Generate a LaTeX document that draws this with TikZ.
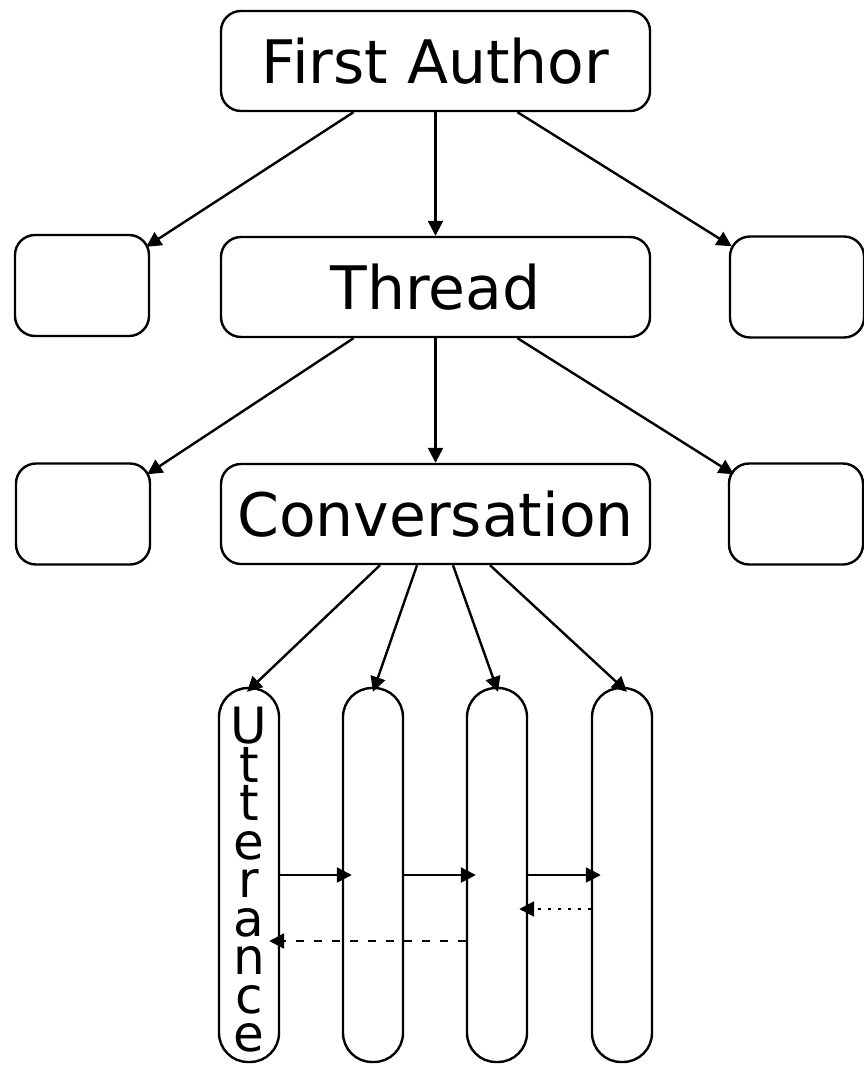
\documentclass[tikz,border=0pt]{standalone}
\usepackage{fontspec}
\setmainfont{DejaVu Sans}
\usetikzlibrary{arrows.meta,calc}
% tight, fixed line pitch for the vertical label
\newcommand\stackfont{\fontsize{50}{38.5}\selectfont
  \lineskiplimit=-100pt\relax\lineskip=0pt\relax}
\tikzset{
  box/.style={draw, line width=2.4pt, rounded corners=20pt, inner sep=0pt},
  bigbox/.style={box, minimum width=429pt, minimum height=100pt,
    font=\fontsize{60}{72}\selectfont},
  sidebox/.style={box, minimum width=134pt, minimum height=101pt},
  uttbox/.style={draw, line width=2.4pt, rounded corners=29pt,
    minimum width=60pt, minimum height=374pt, inner sep=0pt},
  arr/.style={line width=2.4pt, -{Triangle[length=15pt,width=15pt]}},
  back/.style={arr, dash pattern=on 8pt off 10pt},
  backdot/.style={arr, dash pattern=on 3pt off 7pt},
}
\begin{document}
\begin{tikzpicture}[x=1pt,y=-1pt]
\useasboundingbox (0,0) rectangle (863,1065);

% hierarchy levels
\node[bigbox] (fa) at (435.5,61) {First Author};
\node[bigbox] (th) at (435.5,287) {Thread};
\node[bigbox] (cv) at (435.5,514) {Conversation};

% sibling placeholders
\node[sidebox] (l1) at (82,285.5) {};
\node[sidebox] (r1) at (797,287) {};
\node[sidebox] (l2) at (83,514) {};
\node[sidebox] (r2) at (796,514) {};

% utterance columns
\node[uttbox] (u1) at (249,875) {};
\node[uttbox] (u2) at (373,875) {};
\node[uttbox] (u3) at (497,875) {};
\node[uttbox] (u4) at (622,875) {};
\node[font=\stackfont, align=center, inner sep=0pt, anchor=north] (ut)
  at (249,707) {U\\t\\t\\e\\r\\a\\n\\c\\e};

% first author -> thread level
\draw[arr] ([xshift=-82pt]fa.south) -- ([xshift=-4pt,yshift=-13pt]l1.north east);
\draw[arr] (fa.south) -- (th.north);
\draw[arr] ([xshift=82pt]fa.south) -- ([xshift=3pt,yshift=-11pt]r1.north west);

% thread -> conversation level
\draw[arr] ([xshift=-82pt]th.south) -- ([xshift=-4pt,yshift=-12pt]l2.north east);
\draw[arr] (th.south) -- (cv.north);
\draw[arr] ([xshift=82pt]th.south) -- ([xshift=6pt,yshift=-12pt]r2.north west);

% conversation -> utterances
\draw[arr] ([xshift=-55.5pt]cv.south) -- ([xshift=-2pt,yshift=-5pt]u1.north);
\draw[arr] ([xshift=-18.5pt]cv.south) -- ([yshift=-5pt]u2.north);
\draw[arr] ([xshift=17.5pt]cv.south) -- ([xshift=1pt,yshift=-5pt]u3.north);
\draw[arr] ([xshift=54.5pt]cv.south) -- ([xshift=5pt,yshift=-5pt]u4.north);

% links between utterances
\draw[arr] (u1.east) -- ([xshift=10pt]u2.west);
\draw[arr] (u2.east) -- ([xshift=10pt]u3.west);
\draw[arr] (u3.east) -- ([xshift=10pt]u4.west);
\draw[backdot] ([yshift=-34pt]u4.west) -- ([xshift=-9pt,yshift=-34pt]u3.east);
\draw[back] ([yshift=-66pt]u3.west) -- ([xshift=-11pt,yshift=-66pt]u1.east);
\end{tikzpicture}
\end{document}
